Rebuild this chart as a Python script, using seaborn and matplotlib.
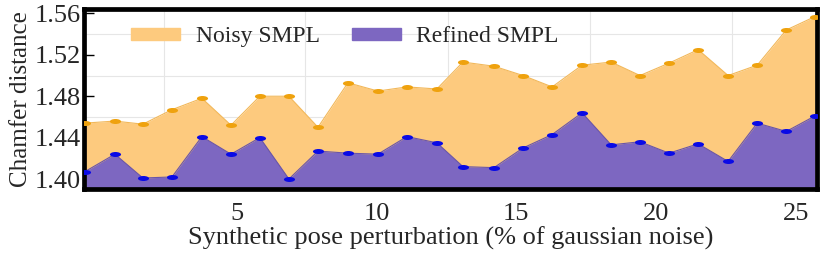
import numpy as np
import matplotlib
matplotlib.use("Agg")
import matplotlib.pyplot as plt
import seaborn as sns
from matplotlib.path import Path
from matplotlib.patches import Patch
from matplotlib.ticker import FixedLocator

# perturbation level of each sample
noise = [-0.43, 0.65, 1.65, 2.69, 3.76, 4.80, 5.83, 6.87, 7.91, 8.98,
         10.05, 11.09, 12.16, 13.09, 14.20, 15.24, 16.28, 17.35, 18.39, 19.42,
         20.46, 21.50, 22.57, 23.61, 24.65, 25.68]
noisy_smpl = [1.454, 1.456, 1.453, 1.467, 1.478, 1.452, 1.480, 1.480, 1.450, 1.493,
              1.485, 1.489, 1.487, 1.513, 1.509, 1.500, 1.489, 1.510, 1.513, 1.500,
              1.512, 1.525, 1.500, 1.510, 1.544, 1.557]
refined_smpl = [1.407, 1.424, 1.401, 1.402, 1.441, 1.424, 1.440, 1.400, 1.427, 1.425,
                1.424, 1.441, 1.435, 1.412, 1.411, 1.430, 1.443, 1.464, 1.433, 1.436,
                1.425, 1.434, 1.417, 1.454, 1.446, 1.461]
yticks = [1.40, 1.44, 1.48, 1.52, 1.56]
xticks = [5, 10, 15, 20, 25]

sns.set_theme(style="white")
plt.rcParams['font.family'] = ['Liberation Serif', 'DejaVu Serif']

orange_fill = '#FDCA7E'
orange_pt = '#EFA20E'
purple_fill = '#7D67C1'
blue_pt = '#0A0AE6'

# flattened ellipse marker like the original
circ = Path.unit_circle()
ellipse = Path(circ.vertices * np.array([1.0, 0.45]), circ.codes)

fig = plt.figure(figsize=(8.22, 2.59), dpi=100)
ax = fig.add_axes([0.102, 0.270, 0.892, 0.695])

bottom = 1.38
ax.fill_between(noise, noisy_smpl, bottom, color=orange_fill, lw=0, zorder=1)
ax.fill_between(noise, refined_smpl, bottom, color=purple_fill, lw=0, zorder=2)
sns.lineplot(x=noise, y=noisy_smpl, ax=ax, color='#F2B85A', lw=0.8,
             marker=ellipse, markersize=8, markerfacecolor=orange_pt,
             markeredgewidth=0, zorder=3)
sns.lineplot(x=noise, y=refined_smpl, ax=ax, color='#6A55A8', lw=0.8,
             marker=ellipse, markersize=8, markerfacecolor=blue_pt,
             markeredgewidth=0, zorder=4)

ax.set_xlim(-0.46, 25.75)
ax.set_ylim(1.3903, 1.5642)
ax.set_xticks(xticks)
ax.set_yticks(yticks)
ax.set_yticklabels([f"{v:.2f}" for v in yticks])
ax.xaxis.set_minor_locator(FixedLocator([2.4, 7.45, 12.55, 17.65, 22.7]))
ax.yaxis.set_minor_locator(FixedLocator([1.42, 1.46, 1.50, 1.54]))
ax.grid(which='minor', color='#E6E6E6', lw=0.8, zorder=0)
ax.grid(which='major', visible=False)
ax.set_axisbelow(True)

ax.tick_params(axis='both', which='major', direction='in', length=7, width=1,
               color='black', labelsize=19, left=True, bottom=True, pad=2)
ax.tick_params(axis='x', which='major', pad=10)
ax.tick_params(which='minor', length=0)
for s in ax.spines.values():
    s.set_color('black')
    s.set_linewidth(3.4)

ax.set_xlabel("Synthetic pose perturbation (% of gaussian noise)", fontsize=19, labelpad=1)
ax.set_ylabel("Chamfer distance", fontsize=18, labelpad=2)

handles = [Patch(color=orange_fill, label='Noisy SMPL'),
           Patch(color=purple_fill, label='Refined SMPL')]
ax.legend(handles=handles, loc='center left', bbox_to_anchor=(0.035, 0.845),
          ncol=2, frameon=False, fontsize=17, handlelength=2.1, handleheight=0.4,
          handletextpad=0.65, columnspacing=1.35)

fig.savefig("out.png", dpi=100)
